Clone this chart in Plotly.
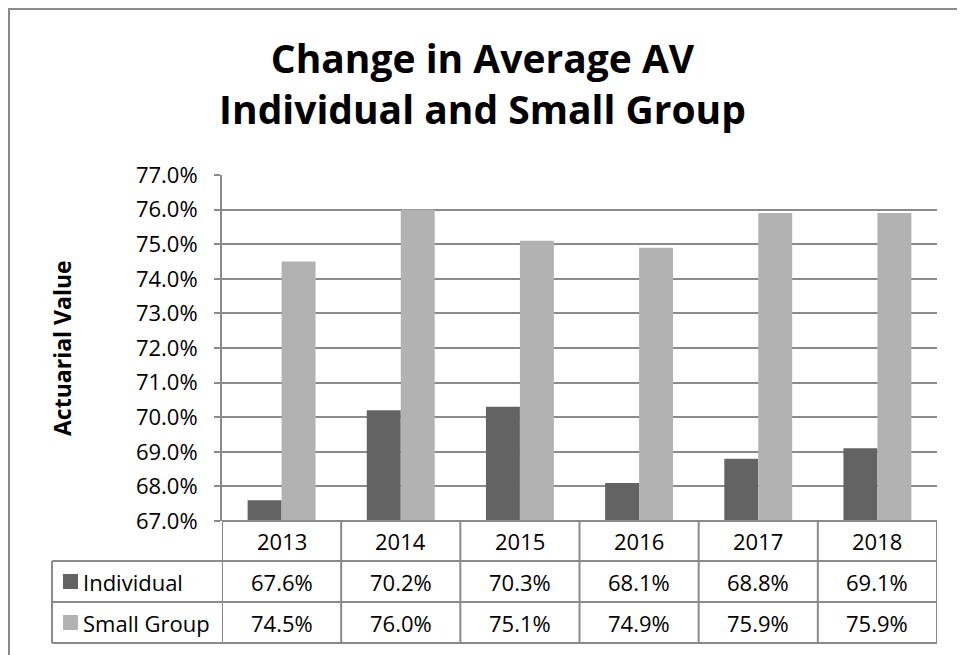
import plotly.graph_objects as go

# ---- data ----
years = ["2013", "2014", "2015", "2016", "2017", "2018"]
individual = [67.6, 70.2, 70.3, 68.1, 68.8, 69.1]
small_group = [74.5, 76.0, 75.1, 74.9, 75.9, 75.9]
series_names = ["Individual", "Small Group"]
y_ticks = [67, 68, 69, 70, 71, 72, 73, 74, 75, 76, 77]

# ---- geometry (pixels in the page; the page body adds an 8px offset) ----
OFF = 8
FIG_W, FIG_H = 965 - OFF, 655 - OFF
L, R, T, B = 222 - OFF, 937 - OFF, 175 - OFF, 521 - OFF
W, H = R - L, B - T
ROW_LINES = [v - OFF for v in [521, 561, 602, 643]]
LEG_LEFT = 52 - OFF

def px(x):
    return (x - L) / W

def py(y):
    return (B - y) / H

DARK = "#636363"
LIGHT = "#b2b2b2"
GRID = "#8a8a8a"
FONT = "Open Sans"

fig = go.Figure()
fig.add_trace(go.Bar(x=years, y=individual, name=series_names[0],
                     marker=dict(color=DARK, line=dict(width=0)), showlegend=False))
fig.add_trace(go.Bar(x=years, y=small_group, name=series_names[1],
                     marker=dict(color=LIGHT, line=dict(width=0)), showlegend=False))

shapes = []
line_style = dict(color=GRID, width=2)
shapes.append(dict(type="line", xref="paper", yref="paper", x0=0, x1=1,
                   y0=py(ROW_LINES[0]), y1=py(ROW_LINES[0]), line=line_style))
for yl in ROW_LINES[1:]:
    shapes.append(dict(type="line", xref="paper", yref="paper", x0=px(LEG_LEFT), x1=1,
                       y0=py(yl), y1=py(yl), line=line_style))
for i in range(len(years) + 1):
    shapes.append(dict(type="line", xref="x", yref="paper", x0=i - 0.5, x1=i - 0.5,
                       y0=py(ROW_LINES[0]), y1=py(ROW_LINES[-1]), line=line_style))
shapes.append(dict(type="line", xref="paper", yref="paper", x0=px(LEG_LEFT), x1=px(LEG_LEFT),
                   y0=py(ROW_LINES[1]), y1=py(ROW_LINES[-1]), line=line_style))
for k, col in enumerate([DARK, LIGHT]):
    cy = (ROW_LINES[k + 1] + ROW_LINES[k + 2]) / 2
    shapes.append(dict(type="rect", xref="paper", yref="paper",
                       x0=px(63 - OFF), x1=px(78 - OFF), y0=py(cy - 7.5), y1=py(cy + 7.5),
                       fillcolor=col, line=dict(width=0)))
# outer chart frame (top and left edges visible)
shapes.append(dict(type="rect", xref="paper", yref="paper",
                   x0=px(1), x1=px(FIG_W + 30), y0=py(1), y1=py(FIG_H + 30),
                   line=dict(color=GRID, width=2), fillcolor="rgba(0,0,0,0)", layer="above"))

annotations = []
tfont = dict(family=FONT, size=22, color="#000000")
hdr_y = py((ROW_LINES[0] + ROW_LINES[1]) / 2)
for i, yr in enumerate(years):
    annotations.append(dict(x=i, y=hdr_y, xref="x", yref="paper", text=yr,
                            showarrow=False, font=tfont, xanchor="center", yanchor="middle"))
for k, (nm, vals) in enumerate(zip(series_names, [individual, small_group])):
    ry = py((ROW_LINES[k + 1] + ROW_LINES[k + 2]) / 2)
    annotations.append(dict(x=px(81 - OFF), y=ry, xref="paper", yref="paper", text=nm,
                            showarrow=False, font=tfont, xanchor="left", yanchor="middle"))
    for i, v in enumerate(vals):
        annotations.append(dict(x=i, y=ry, xref="x", yref="paper", text=f"{v:.1f}%",
                                showarrow=False, font=tfont, xanchor="center", yanchor="middle"))
annotations.append(dict(x=px(62 - OFF), y=0.5, xref="paper", yref="paper",
                        text="<b>Actuarial Value</b>", textangle=-90, showarrow=False,
                        font=dict(family=FONT, size=23, color="#000000"),
                        xanchor="center", yanchor="middle"))

fig.update_layout(
    width=FIG_W, height=FIG_H,
    margin=dict(l=L, r=FIG_W - R, t=T, b=FIG_H - B, pad=0),
    paper_bgcolor="white", plot_bgcolor="white",
    barmode="group", bargap=0.43, bargroupgap=0,
    title=dict(text="<b>Change in Average AV<br>Individual and Small Group</b>",
               x=(482.5 - OFF) / FIG_W, xanchor="center", xref="container",
               y=1 - (73 - OFF) / FIG_H, yanchor="middle", yref="container",
               font=dict(family=FONT, size=39, color="#000000")),
    xaxis=dict(type="category", showticklabels=False, ticks="", showgrid=False,
               showline=False, zeroline=False, range=[-0.5, len(years) - 0.5]),
    yaxis=dict(range=[y_ticks[0], y_ticks[-1]], tickvals=y_ticks,
               ticktext=[f"{v:.1f}%" for v in y_ticks],
               showgrid=True, gridcolor=GRID, gridwidth=2,
               showline=True, linecolor=GRID, linewidth=2,
               ticks="outside", ticklen=6, tickcolor=GRID, tickwidth=2,
               ticklabelstandoff=12, zeroline=False,
               tickfont=dict(family=FONT, size=22, color="#000000")),
    shapes=shapes, annotations=annotations,
    font=dict(family=FONT),
)

fig.write_html("out.html")
